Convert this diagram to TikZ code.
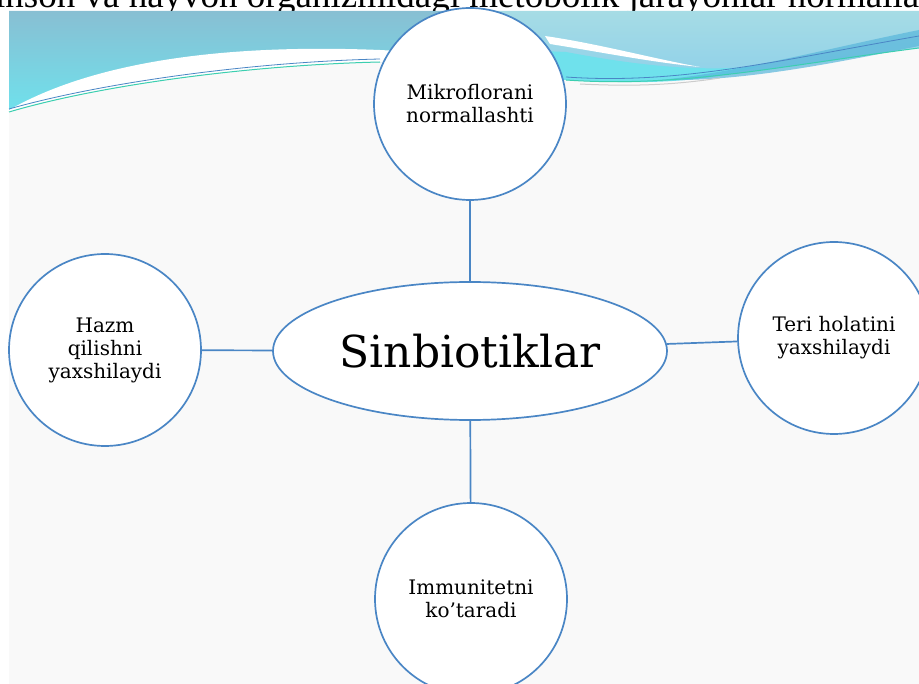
\documentclass[tikz,border=0pt]{standalone}
\usepackage{fontspec}
\setmainfont{DejaVu Serif}
\newfontfamily\titlefont{Liberation Serif}
\usetikzlibrary{shapes.geometric}

\definecolor{lineblue}{HTML}{4A86C5}
\definecolor{slidebg}{HTML}{F9F9F9}
\definecolor{wavetop}{HTML}{88BFD3}
\definecolor{wavecyan}{HTML}{6FE1EC}
\definecolor{waveright}{HTML}{A6DCE5}
\definecolor{wavemid}{HTML}{8CCFEA}
\definecolor{wavedeep}{HTML}{58B6DB}
\definecolor{wavegreen}{HTML}{3CCFB0}

\tikzset{
  leaf/.style={circle, draw=lineblue, fill=white, line width=1.7pt,
    minimum size=192pt, inner sep=0pt, align=center,
    font=\fontsize{20}{23}\selectfont},
  hub/.style={ellipse, draw=lineblue, fill=white, line width=1.7pt,
    minimum width=394pt, minimum height=138pt, inner sep=0pt,
    font=\fontsize{44}{50}\selectfont},
  link/.style={draw=lineblue, line width=1.7pt}
}

\begin{document}
\begin{tikzpicture}[x=1pt,y=-1pt]
	\useasboundingbox (0,0) rectangle (919,684);
	\fill[white] (0,0) rectangle (919,684);

	% Title line, mostly cut off
	\node[anchor=base west, inner sep=0pt, font=\titlefont\fontsize{37}{40}\selectfont] (title) at (-5,8)
		{inson va hayvon organizmidagi metobolik jarayonlar normallashtiradi};

	% Slide background and wave
	\fill[slidebg] (9,11) rectangle (919,684);
	\shade[top color=wavetop, bottom color=wavecyan] (9,11) -- (470,11) -- (470,70)
		-- (380,62) .. controls (250,65) and (100,85) .. (9,112) -- cycle;
	\shade[top color=waveright, bottom color=wavemid] (470,11) -- (919,11) -- (919,48)
		.. controls (780,66) and (680,88) .. (566,80) -- (470,70) -- cycle;
	\fill[wavecyan] (470,48) -- (566,52) .. controls (640,66) and (700,72) .. (760,66)
		.. controls (700,84) and (640,84) .. (566,80) -- (470,70) -- cycle;
	\fill[white] (9,110) .. controls (70,75) and (180,42) .. (380,50) -- (470,55)
		-- (380,62) .. controls (250,65) and (100,85) .. (9,112) -- cycle;
	\fill[white] (545,36) .. controls (600,44) and (650,58) .. (700,67)
		.. controls (650,62) and (600,52) .. (550,44) -- cycle;
	\fill[wavedeep, opacity=0.7] (660,80) .. controls (740,72) and (830,48) .. (919,30)
		-- (919,46) .. controls (830,64) and (740,82) .. (660,80) -- cycle;

	% Thin lines along the wave
	\draw[wavegreen, line width=1pt] (9,112) .. controls (100,85) and (250,65) .. (380,62);
	\draw[lineblue, line width=0.8pt] (9,109) .. controls (100,83) and (250,62) .. (380,59);
	\draw[wavegreen, line width=1pt] (566,80) .. controls (680,88) and (780,66) .. (919,48);
	\draw[lineblue, line width=0.8pt] (566,77) .. controls (680,85) and (780,60) .. (919,36);
	\draw[gray!40, line width=1pt] (580,84) .. controls (640,87) and (680,84) .. (720,78);

	% Centre and the four circles
	\node[hub] (sin) at (470,351) {Sinbiotiklar};
	\node[leaf] (mikro) at (470,104) {Mikroflorani\\normallashti};
	\node[leaf] (hazm) at (105,350) {Hazm\\qilishni\\yaxshilaydi};
	\node[leaf] (teri) at (834,338) {Teri holatini\\yaxshilaydi};
	\node[leaf] (immun) at (471,599) {Immunitetni\\ko’taradi};

	% Connectors
	\draw[link] (mikro) -- (sin);
	\draw[link] (hazm) -- (sin);
	\draw[link] (sin) -- (teri);
	\draw[link] (sin) -- (immun);
\end{tikzpicture}
\end{document}
